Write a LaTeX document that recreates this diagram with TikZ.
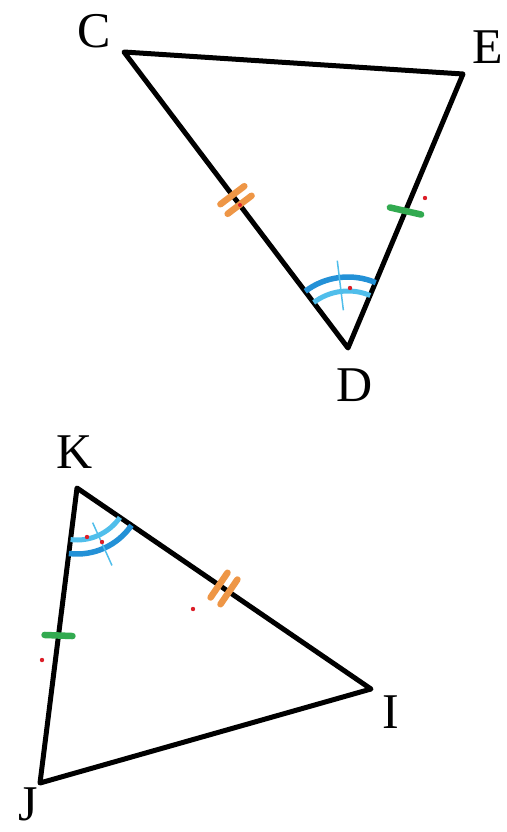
\documentclass[tikz,border=0pt]{standalone}
\usepackage{fontspec}
\setmainfont{Liberation Serif}
\usetikzlibrary{calc}
\definecolor{orng}{RGB}{238,150,70}
\definecolor{grn}{RGB}{50,170,80}
\definecolor{blu}{RGB}{35,145,215}
\definecolor{lblu}{RGB}{80,190,235}
\definecolor{rdot}{RGB}{220,30,40}
\begin{document}
\begin{tikzpicture}[x=1pt,y=-1pt,
  side/.style={line width=5pt,line join=round,line cap=round,black},
  lbl/.style={font=\fontsize{50}{50}\selectfont,inner sep=0pt},
  otick/.style={orng,line width=6.5pt,line cap=round},
  gtick/.style={grn,line width=6.5pt,line cap=round},
  arcout/.style={blu,line width=5.5pt},
  arcin/.style={lblu,line width=5pt},
  atick/.style={lblu,line width=1.5pt},
  rd/.style={fill=rdot,draw=none}]
\useasboundingbox (0,0) rectangle (506,832);
% vertices
\coordinate (C) at (124,52);
\coordinate (E) at (463,74);
\coordinate (D) at (348,348);
\coordinate (K) at (77,488);
\coordinate (I) at (371,689);
\coordinate (J) at (40,783);
% triangles
\draw[side] (C) -- (E) -- (D) -- cycle;
\draw[side] (K) -- (I) -- (J) -- cycle;
% labels
\node[lbl] (lC) at (94,31) {C};
\node[lbl] (lE) at (488,47) {E};
\node[lbl] (lD) at (355,385) {D};
\node[lbl] (lK) at (75,452) {K};
\node[lbl] (lI) at (391,712) {I};
\node[lbl] (lJ) at (28,804) {J};
% double ticks on CD
\coordinate (mCD) at ($(C)!0.5!(D)$);
\coordinate (mCDa) at ($(mCD)!6pt!(D)$);
\coordinate (mCDb) at ($(mCD)!-6pt!(D)$);
\draw[otick] ($(mCDa)!15pt!90:(D)$) -- ($(mCDa)!15pt!-90:(D)$);
\draw[otick] ($(mCDb)!15pt!90:(D)$) -- ($(mCDb)!15pt!-90:(D)$);
% double ticks on KI
\coordinate (mKI) at ($(K)!0.5!(I)$);
\coordinate (mKIa) at ($(mKI)!6pt!(I)$);
\coordinate (mKIb) at ($(mKI)!-6pt!(I)$);
\draw[otick] ($(mKIa)!15pt!90:(I)$) -- ($(mKIa)!15pt!-90:(I)$);
\draw[otick] ($(mKIb)!15pt!90:(I)$) -- ($(mKIb)!15pt!-90:(I)$);
% single ticks
\coordinate (mDE) at ($(D)!0.5!(E)$);
\draw[gtick] ($(mDE)!16pt!100:(E)$) -- ($(mDE)!16pt!-80:(E)$);
\coordinate (mKJ) at ($(K)!0.5!(J)$);
\draw[gtick] ($(mKJ)!14pt!95:(J)$) -- ($(mKJ)!14pt!-85:(J)$);
% angle D
\draw[arcout] ([shift={(D)}]-127:71) arc[start angle=-127,end angle=-67,radius=71];
\draw[arcin] ([shift={(D)}]-127:57) arc[start angle=-127,end angle=-67,radius=57];
\draw[atick] ([shift={(D)}]-97:38) -- ([shift={(D)}]-97:88);
% angle K
\draw[arcout] ([shift={(K)}]34.4:66) arc[start angle=34.4,end angle=97.1,radius=66];
\draw[arcin] ([shift={(K)}]34.4:52) arc[start angle=34.4,end angle=97.1,radius=52];
\draw[atick] ([shift={(K)}]65.7:38) -- ([shift={(K)}]65.7:85);
% red dots
\fill[rd] (350,288) circle (2.2);
\fill[rd] (425,198) circle (2.2);
\fill[rd] (240,205) circle (2);
\fill[rd] (87,537) circle (2.2);
\fill[rd] (102,542) circle (2.2);
\fill[rd] (193,609) circle (2.2);
\fill[rd] (42,660) circle (2.2);
\end{tikzpicture}
\end{document}
